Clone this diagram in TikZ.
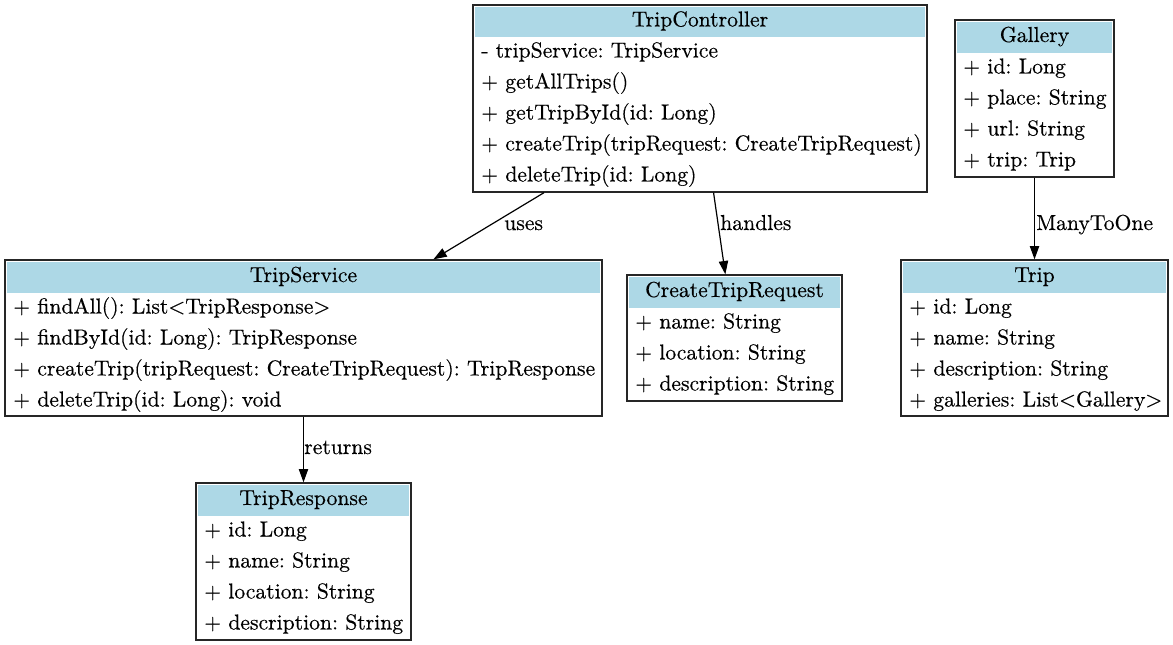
\documentclass[tikz,border=0pt]{standalone}
\usepackage{fontspec}
\setmainfont{lmroman10-regular.otf}[FakeBold=0.4]
\usetikzlibrary{arrows.meta,fit}
\definecolor{hdrblue}{HTML}{ADD8E6}
\frenchspacing
\newcommand{\umlclass}[8]{%
  \node[umlbox, fit={(#2,-#3)(#4,-#5)}] (#1) {};
  \fill[hdrblue] (#2+2,-#3-2) rectangle (#4-2,-#6);
  \node[umltitle] (#1-t) at ({(#2+#4)/2},{-(#3+#6)/2-5.5}) {#7};
  \foreach \r [count=\i] in {#8} {
    \node[umlrow] (#1-\i) at (#2+8,{-(#6+31*\i-10.5)}) {\r};
  }
}
\tikzset{
  umlfont/.style={font=\fontsize{16.25}{18}\selectfont\frenchspacing},
  umlbox/.style={draw=black!85, line width=1pt, inner sep=0pt},
  umltitle/.style={anchor=base, inner sep=0pt, umlfont},
  umlrow/.style={anchor=base west, inner sep=0pt, umlfont},
  edgelbl/.style={anchor=base west, inner sep=0pt, umlfont},
  edge/.style={draw=black, line width=0.9pt, -{Triangle[length=10pt,width=7pt]}}
}
\begin{document}
\begin{tikzpicture}[x=0.75pt,y=0.75pt]
\useasboundingbox (0,0) rectangle (1173,-645);
\umlclass{TC}{473}{5}{927}{192}{37}{TripController}{- tripService: TripService,+ getAllTrips(),+ getTripById(id: Long),+ createTrip(tripRequest: CreateTripRequest),+ deleteTrip(id: Long)}
\umlclass{GA}{955}{20}{1114}{177}{53}{Gallery}{+ id: Long,+ place: String,+ url: String,+ trip: Trip}
\umlclass{TS}{5}{260}{602}{416}{293}{TripService}{+ findAll(): List<TripResponse>,+ findById(id: Long): TripResponse,+ createTrip(tripRequest: CreateTripRequest): TripResponse,+ deleteTrip(id: Long): void}
\umlclass{CR}{627}{275}{842}{401}{308}{CreateTripRequest}{+ name: String,+ location: String,+ description: String}
\umlclass{TR}{901}{260}{1168}{416}{293}{Trip}{+ id: Long,+ name: String,+ description: String,+ galleries: List<Gallery>}
\umlclass{RS}{196}{483}{411}{640}{516}{TripResponse}{+ id: Long,+ name: String,+ location: String,+ description: String}
\draw[edge] (TC) -- (TS);
\draw[edge] (TC) -- (CR);
\draw[edge] (GA) -- (TR);
\draw[edge] (TS) -- (RS);
\node[edgelbl] (l-uses) at (504,-230) {uses};
\node[edgelbl] (l-handles) at (720,-230) {handles};
\node[edgelbl] (l-many) at (1036,-230) {ManyToOne};
\node[edgelbl] (l-returns) at (304,-454) {returns};
\end{tikzpicture}
\end{document}
